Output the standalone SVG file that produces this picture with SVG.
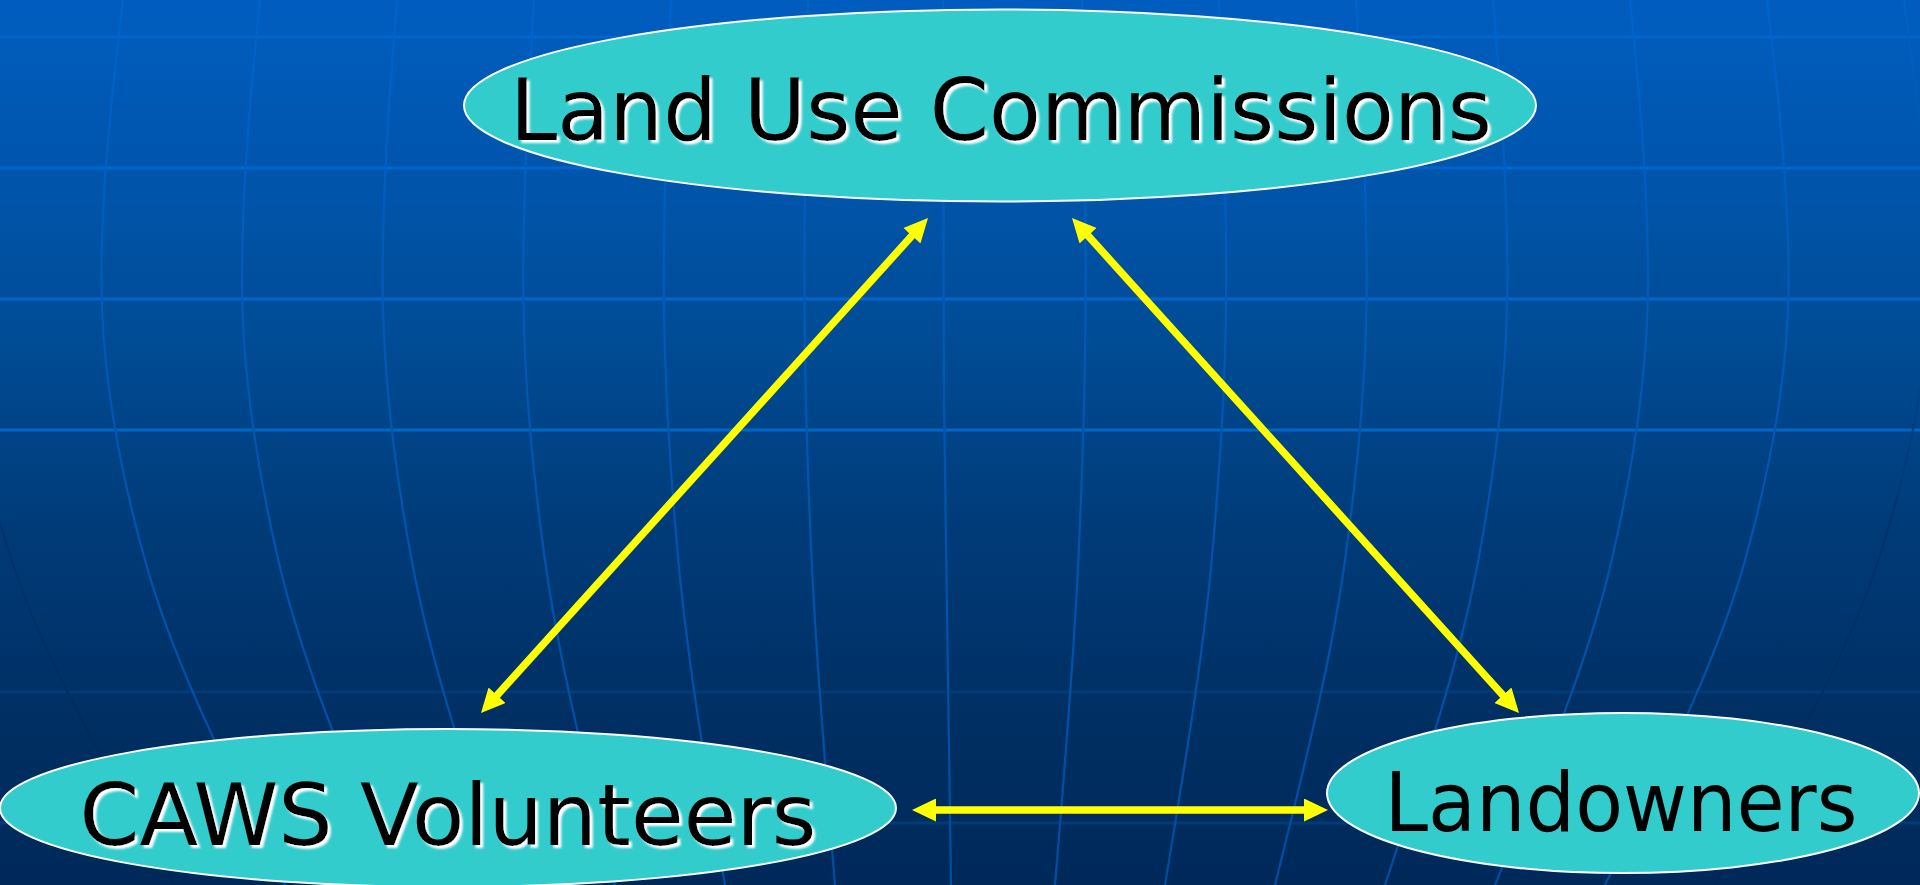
<svg xmlns="http://www.w3.org/2000/svg" width="1920" height="885" viewBox="0 0 1920 885">
  <defs>
    <linearGradient id="sky" x1="0" y1="0" x2="0" y2="1">
      <stop offset="0" stop-color="#005DBF"/>
      <stop offset="0.226" stop-color="#0054A9"/>
      <stop offset="0.407" stop-color="#004A92"/>
      <stop offset="0.6" stop-color="#003B78"/>
      <stop offset="0.81" stop-color="#002F63"/>
      <stop offset="1" stop-color="#00295A"/>
    </linearGradient>
    <linearGradient id="meridian" gradientUnits="userSpaceOnUse" x1="0" y1="0" x2="0" y2="885">
      <stop offset="0" stop-color="#0064CC"/>
      <stop offset="0.5" stop-color="#0056B0"/>
      <stop offset="1" stop-color="#004DA2"/>
    </linearGradient>
    <linearGradient id="rim" gradientUnits="userSpaceOnUse" x1="0" y1="0" x2="0" y2="885">
      <stop offset="0" stop-color="#0062C8"/>
      <stop offset="0.35" stop-color="#004A94"/>
      <stop offset="0.6" stop-color="#00336C"/>
      <stop offset="1" stop-color="#002550"/>
    </linearGradient>
    <filter id="lift" x="-5%" y="-20%" width="110%" height="140%">
      <feDropShadow dx="3" dy="3" stdDeviation="1.2" flood-color="#FFFFFF" flood-opacity="1"/>
    </filter>
    <marker id="head" viewBox="0 0 24 23" markerUnits="userSpaceOnUse" markerWidth="24" markerHeight="23" refX="4" refY="11.5" orient="auto-start-reverse">
      <path d="M0,0 L24,11.5 L0,23 Z" fill="#FFFF00"/>
    </marker>
    <style>
      .lat { stroke-width: 3; fill: none; }
      .lat-hi { stroke: #0066CC; }
      .lat-lo { stroke: #003C78; }
      .mer { stroke: url(#meridian); stroke-width: 2.2; fill: none; }
      .rim { stroke: url(#rim); stroke-width: 2.2; fill: none; }
      .node { fill: #33CCCC; stroke: #FFFFFF; stroke-width: 2; }
      .label { font-family: "DejaVu Sans", Verdana, "Liberation Sans", sans-serif; fill: #000000; text-anchor: middle; }
      .link { stroke: #FFFF00; stroke-width: 7.5; fill: none; marker-start: url(#head); marker-end: url(#head); }
    </style>
  </defs>

  <!-- globe grid backdrop -->
  <g id="background">
    <rect x="0" y="0" width="1920" height="885" fill="url(#sky)"/>
    <g id="parallels">
      <line class="lat lat-hi" x1="0" y1="37" x2="1920" y2="37"/>
      <line class="lat lat-hi" x1="0" y1="168" x2="1920" y2="168"/>
      <line class="lat lat-hi" x1="0" y1="299" x2="1920" y2="299"/>
      <line class="lat lat-hi" x1="0" y1="430" x2="1920" y2="430"/>
      <line class="lat lat-lo" x1="0" y1="692" x2="1920" y2="692"/>
      <line class="lat lat-lo" x1="0" y1="823" x2="1920" y2="823"/>
    </g>
    <g id="meridians">
      <path class="mer" d="M943,0 L944,400 Q948,650 951,885"/>
      <path class="mer" d="M1082,0 C1083.9,93.3 1085.6,186.7 1085.6,280 C1085.6,373.7 1082.7,467.3 1078.3,561 C1073.3,669 1063.9,777 1055,885"/>
      <path class="mer" d="M808,0 C806.1,93.3 804.4,186.7 804.4,280 C804.4,373.7 807.3,467.3 811.7,561 C816.7,669 826.1,777 835,885"/>
      <path class="mer" d="M1219,0 C1222.7,93.3 1226.2,186.7 1226.2,280 C1226.2,373.7 1220.3,467.3 1211.6,561 C1201.5,669 1182.7,777 1165,885"/>
      <path class="mer" d="M671,0 C667.3,93.3 663.8,186.7 663.8,280 C663.8,373.7 669.7,467.3 678.4,561 C688.5,669 707.3,777 725,885"/>
      <path class="mer" d="M1356,0 C1361.6,93.3 1366.8,186.7 1366.8,280 C1366.8,373.7 1358,467.3 1344.9,561 C1329.8,669 1301.6,777 1275,885"/>
      <path class="mer" d="M534,0 C528.4,93.3 523.2,186.7 523.2,280 C523.2,373.7 532,467.3 545.1,561 C560.2,669 588.4,777 615,885"/>
      <path class="mer" d="M1493,0 C1500.5,93.3 1507.4,186.7 1507.4,280 C1507.4,373.7 1495.6,467.3 1478.2,561 C1458.1,669 1420.4,777 1385,885"/>
      <path class="mer" d="M397,0 C389.5,93.3 382.6,186.7 382.6,280 C382.6,373.7 394.4,467.3 411.8,561 C431.9,669 469.6,777 505,885"/>
      <path class="mer" d="M1630,0 C1639.4,93.3 1648,186.7 1648,280 C1648,373.7 1633.3,467.3 1611.5,561 C1586.4,669 1539.3,777 1495,885"/>
      <path class="mer" d="M260,0 C250.6,93.3 242,186.7 242,280 C242,373.7 256.7,467.3 278.5,561 C303.6,669 350.7,777 395,885"/>
      <path class="mer" d="M1767,0 C1778.2,93.3 1788.6,186.7 1788.6,280 C1788.6,373.7 1771,467.3 1744.8,561 C1714.6,669 1658.2,777 1605,885"/>
      <path class="mer" d="M123,0 C111.8,93.3 101.4,186.7 101.4,280 C101.4,373.7 119,467.3 145.2,561 C175.4,669 231.8,777 285,885"/>
      <path class="rim" d="M1904,0 C1917.1,93.3 1929.2,186.7 1929.2,280 C1929.2,373.7 1908.6,467.3 1878.1,561 C1842.9,669 1777,777 1715,885"/>
      <path class="rim" d="M-14,0 C-27.1,93.3 -39.2,186.7 -39.2,280 C-39.2,373.7 -18.6,467.3 11.9,561 C47.1,669 113,777 175,885"/>
    </g>
  </g>

  <!-- two-way links between the three parties -->
  <g id="connectors">
    <line class="link" x1="914.6" y1="232.8" x2="494.4" y2="698.2"/>
    <line class="link" x1="1085.4" y1="232.8" x2="1505.6" y2="698.2"/>
    <line class="link" x1="932" y1="810" x2="1308" y2="810"/>
  </g>

  <g id="node-land-use-commissions">
    <ellipse class="node" cx="1000" cy="105.5" rx="536" ry="96"/>
    <text class="label" x="1001" y="140" font-size="86" textLength="982" lengthAdjust="spacingAndGlyphs" filter="url(#lift)">Land Use Commissions</text>
  </g>

  <g id="node-caws-volunteers">
    <ellipse class="node" cx="448" cy="808" rx="448" ry="79"/>
    <text class="label" x="448" y="845" font-size="86" textLength="737" lengthAdjust="spacingAndGlyphs" filter="url(#lift)">CAWS Volunteers</text>
  </g>

  <g id="node-landowners">
    <ellipse class="node" cx="1623" cy="793" rx="296" ry="80"/>
    <text class="label" x="1621" y="831" font-size="82" textLength="473" lengthAdjust="spacingAndGlyphs">Landowners</text>
  </g>
</svg>
